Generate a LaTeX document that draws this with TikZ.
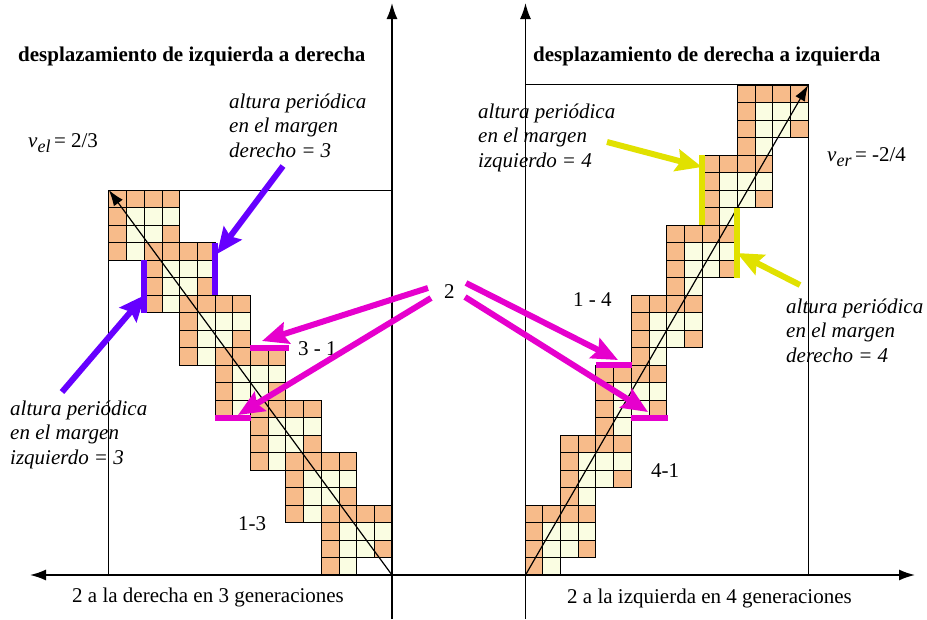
\documentclass[tikz,border=0pt]{standalone}
\usepackage{fontspec}
\setmainfont{Liberation Serif}
\usetikzlibrary{arrows.meta, positioning}
\definecolor{cellorange}{RGB}{247,187,138}
\definecolor{cellcream}{RGB}{250,253,226}
\definecolor{markviolet}{RGB}{102,0,255}
\definecolor{markmagenta}{RGB}{230,0,205}
\definecolor{markyellow}{RGB}{225,225,0}

% one period of the glider, top left corner at (#1,#2)
\newcommand{\gliderblock}[2]{%
  \foreach \dx/\dy/\cc in {0/0/cellorange, 1/0/cellorange, 2/0/cellorange, 3/0/cellorange,
      0/1/cellorange, 1/1/cellcream, 2/1/cellcream, 3/1/cellcream,
      0/2/cellorange, 1/2/cellcream, 2/2/cellcream, 3/2/cellorange,
      0/3/cellorange, 1/3/cellcream}
    \draw[cell, fill=\cc] ({#1+\dx*17.7},{#2+\dy*17.5}) rectangle ++(17.7,17.5);
}

\begin{document}
\begin{tikzpicture}[
    x=1pt, y=-1pt,
    cell/.style={draw=black, line width=0.7pt},
    frame/.style={line width=0.9pt},
    axis/.style={line width=1.6pt},
    diag/.style={line width=1.2pt, -{Latex[length=16pt,width=11pt]}},
    markbar/.style={line width=6pt},
    pointer/.style={line width=6pt, -{Stealth[length=26pt,width=22pt,inset=4pt]}},
    titletext/.style={font=\bfseries\fontsize{21}{25}\selectfont, inner sep=0, anchor=base west},
    plaintext/.style={font=\fontsize{21}{25}\selectfont, inner sep=0, anchor=base west},
    notetext/.style={font=\itshape\fontsize{21}{24.5}\selectfont, inner sep=0, align=left, anchor=north west}
]
\useasboundingbox (0,0) rectangle (927,619);

% cells
\foreach \m in {0,...,6} {
  \gliderblock{108.8+2*\m*17.7}{190+3*\m*17.5}
  \gliderblock{525+(12-2*\m)*17.7}{85+4*\m*17.5}
}

% frames
\draw[frame] (108.8,575) |- (392,190);
\draw[frame] (525.5,84.5) -| (808.2,575);

% axes
\coordinate (axL) at (30,575);
\coordinate (axR) at (915,575);
\coordinate (vLb) at (392,619);
\coordinate (vLt) at (392,3);
\coordinate (vRb) at (525.5,619);
\coordinate (vRt) at (525.5,3);
\draw[axis, {Latex[length=16pt,width=11pt]}-{Latex[length=16pt,width=11pt]}] (axL) -- (axR);
\draw[axis, -{Latex[length=16pt,width=11pt]}] (vLb) -- (vLt);
\draw[axis, -{Latex[length=16pt,width=11pt]}] (vRb) -- (vRt);

% diagonals
\coordinate (oL) at (392,575);
\coordinate (tL) at (108.8,190);
\coordinate (oR) at (525.5,575);
\coordinate (tR) at (808.2,85);
\draw[diag] (oL) -- (tL);
\draw[diag] (oR) -- (tR);

% periodic heights and borders
\draw[markbar, markviolet] (215,242.5) -- (215,295);
\draw[markbar, markviolet] (144.2,260) -- (144.2,312.5);
\draw[markbar, markmagenta] (250.4,347.5) -- (289,347.5);
\draw[markbar, markmagenta] (215,417.5) -- (251,417.5);
\draw[markbar, markyellow] (702,155) -- (702,225);
\draw[markbar, markyellow] (737.4,207.5) -- (737.4,277.5);
\draw[markbar, markmagenta] (595.8,365) -- (632,365);
\draw[markbar, markmagenta] (631.2,417.5) -- (668,417.5);

% texts
\node[titletext] (titleL) at (18,61) {desplazamiento de izquierda a derecha};
\node[titletext] (titleR) at (533,61) {desplazamiento de derecha a izquierda};
\node[plaintext] (vel) at (28,147) {\textit{v}\raisebox{-5pt}{\fontsize{18}{18}\selectfont\itshape el}\,= 2/3};
\node[plaintext] (ver) at (827,161) {\textit{v}\raisebox{-5pt}{\fontsize{18}{18}\selectfont\itshape er}\,= -2/4};
\node[notetext] (noteRD) at (229,93.5) {altura periódica\\en el margen\\derecho = 3};
\node[notetext] (noteLI) at (10,400.5) {altura periódica\\en el margen\\izquierdo = 3};
\node[notetext] (noteLI4) at (478,103.5) {altura periódica\\en el margen\\izquierdo = 4};
\node[notetext] (noteRD4) at (786,298.5) {altura periódica\\en el margen\\derecho = 4};
\node[plaintext] (n31) at (298,355) {3 - 1};
\node[plaintext] (n13) at (238,530) {1-3};
\node[plaintext] (two) at (444,298) {2};
\node[plaintext] (n14) at (573,306) {1 - 4};
\node[plaintext] (n41) at (651,477) {4-1};
\node[plaintext] (genL) at (72,602) {2 a la derecha en 3 generaciones};
\node[plaintext] (genR) at (567,603) {2 a la izquierda en 4 generaciones};

% pointers
\coordinate (pv1s) at (283,166);
\coordinate (pv1e) at (217,254);
\coordinate (pv2s) at (62,392);
\coordinate (pv2e) at (145,295);
\coordinate (pm1s) at (428,288);
\coordinate (pm1e) at (262,341);
\coordinate (pm2s) at (431,298);
\coordinate (pm2e) at (238,415);
\coordinate (pm3s) at (466,283);
\coordinate (pm3e) at (618,360);
\coordinate (pm4s) at (465,297);
\coordinate (pm4e) at (648,412);
\coordinate (py1s) at (607,142);
\coordinate (py1e) at (702,167);
\coordinate (py2s) at (800,285);
\coordinate (py2e) at (737,253);
\draw[pointer, markviolet] (pv1s) -- (pv1e);
\draw[pointer, markviolet] (pv2s) -- (pv2e);
\draw[pointer, markmagenta] (pm1s) -- (pm1e);
\draw[pointer, markmagenta] (pm2s) -- (pm2e);
\draw[pointer, markmagenta] (pm3s) -- (pm3e);
\draw[pointer, markmagenta] (pm4s) -- (pm4e);
\draw[pointer, markyellow] (py1s) -- (py1e);
\draw[pointer, markyellow] (py2s) -- (py2e);
\end{tikzpicture}
\end{document}
